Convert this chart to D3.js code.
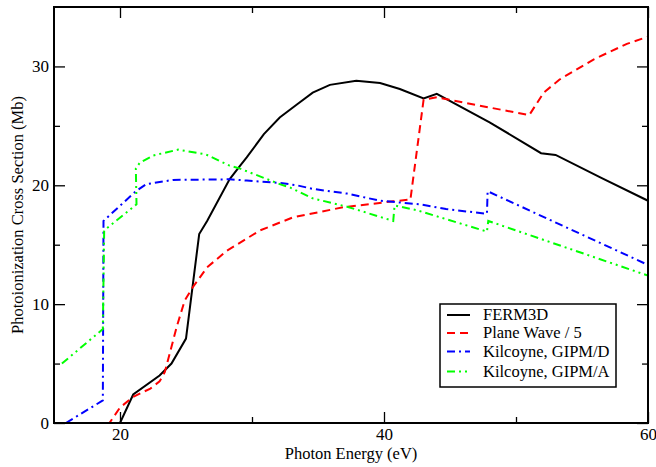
<!DOCTYPE html>
<html>
<head>
<meta charset="utf-8">
<script src="https://cdn.jsdelivr.net/npm/d3@7"></script>
<style>
    body { margin: 0; background: #fff; }
    .axis text { font-family: "Liberation Serif", "Times New Roman", serif; font-size: 17px; fill: #000; }
    .axis line { stroke: #000; stroke-width: 1.3; }
    .axis .domain { display: none; }
    .label { font-family: "Liberation Serif", "Times New Roman", serif; font-size: 16.5px; fill: #000; }
    .legend text { font-family: "Liberation Serif", "Times New Roman", serif; font-size: 16.5px; fill: #000; }
</style>
</head>
<body>
<div id="cross-section-chart"></div>
<script>

// photon energy (eV) / cross section (Mb)
var ferm3dEnergy = [20, 21, 23, 23.9, 25, 26, 26.6, 28.3, 29.0, 29.6, 30.9, 32.1, 33.4, 34.6, 35.9, 37.9, 39.7, 41.2, 43, 44, 48, 51.9, 53, 56.5, 60];
var ferm3dValue  = [0, 2.4, 4.0, 5.0, 7.1, 15.9, 17.0, 20.5, 21.5, 22.35, 24.3, 25.7, 26.8, 27.8, 28.45, 28.8, 28.6, 28.1, 27.3, 27.7, 25.3, 22.7, 22.55, 20.6, 18.7];

var planeWaveEnergy = [15, 19.2, 20, 21, 22.3, 23, 23.4, 24.3, 24.9, 25.5, 26.6, 28.1, 30.6, 33.1, 36.9, 40.7, 42.0, 43.0, 44, 51, 52.1, 53.3, 55.9, 58.4, 60];
var planeWaveValue  = [0, 0, 1.3, 2.2, 2.9, 3.5, 4.3, 8.1, 10.3, 11.4, 13.1, 14.5, 16.2, 17.3, 18.15, 18.65, 18.8, 27.2, 27.4, 25.9, 27.8, 28.9, 30.6, 31.9, 32.5];

var gipmDEnergy = [15.9, 18.7, 18.75, 21.2, 22, 24, 28.3, 29.6, 32.1, 33.4, 34.6, 37.2, 39.7, 42.7, 44.7, 47.8, 47.85, 60];
var gipmDValue  = [0, 1.9, 17.0, 19.5, 20.1, 20.45, 20.5, 20.4, 20.2, 20.0, 19.7, 19.3, 18.7, 18.4, 18.0, 17.6, 19.5, 13.3];

var gipmAEnergy = [15.6, 18.7, 18.8, 21.25, 21.2, 21.5, 22.5, 24.4, 26.5, 28.3, 29.1, 32.1, 32.9, 34.6, 37.2, 40.7, 40.8, 42.5, 47.8, 47.9, 60];
var gipmAValue  = [5.0, 7.9, 16.2, 18.4, 21.4, 21.9, 22.5, 23.0, 22.6, 21.65, 21.4, 20.1, 19.8, 18.9, 18.2, 17.0, 18.3, 17.9, 16.1, 17.0, 12.4];

var seriesNames  = ["FERM3D", "Plane Wave / 5", "Kilcoyne, GIPM/D", "Kilcoyne, GIPM/A"];
var seriesColors = ["#000000", "#ff0000", "#0000ff", "#00ff00"];
var seriesDashes = ["none", "8,5", "8,4,2,4", "8,4,2,4,2,4"];

var xMajorTicks = [20, 40, 60];
var xMinorTicks = [30, 50];
var yMajorTicks = [0, 10, 20, 30];
var yMinorTicks = [5, 15, 25];


CrossSectionChart = function(_parentElement) {
    this.parentElement = _parentElement;
    this.initVis();
};

CrossSectionChart.prototype.initVis = function() {

    var vis = this;

    vis.margin = {top: 7, right: 8, bottom: 44, left: 54};
    vis.width = 656 - vis.margin.left - vis.margin.right;
    vis.height = 467 - vis.margin.top - vis.margin.bottom;

    vis.svg = d3.select("#" + vis.parentElement).append("svg")
        .attr("width", 656)
        .attr("height", 467)
        .append("g")
        .attr("transform", "translate(" + vis.margin.left + "," + vis.margin.top + ")");

    //-----scales------
    vis.x = d3.scaleLinear()
        .domain([15, 60])
        .range([0, vis.width]);

    vis.y = d3.scaleLinear()
        .domain([0, 35])
        .range([vis.height, 0]);

    //build series from the arrays
    var energies = [ferm3dEnergy, planeWaveEnergy, gipmDEnergy, gipmAEnergy];
    var values = [ferm3dValue, planeWaveValue, gipmDValue, gipmAValue];
    vis.series = seriesNames.map(function(name, i) {
        return {
            name: name,
            color: seriesColors[i],
            dash: seriesDashes[i],
            points: energies[i].map(function(e, j) { return {x: e, y: values[i][j]}; })
        };
    });

    vis.drawAxes();
    vis.drawLines();
    vis.drawLegend();
};

CrossSectionChart.prototype.drawAxes = function() {

    var vis = this;
    var major = 11, minor = 6;

    //bottom (labels) + top, ticks pointing inward
    vis.svg.append("g").attr("class", "axis")
        .attr("transform", "translate(0," + vis.height + ")")
        .call(d3.axisBottom(vis.x).tickValues(xMajorTicks).tickSize(-major).tickPadding(5).tickFormat(d3.format("d")));
    vis.svg.append("g").attr("class", "axis")
        .attr("transform", "translate(0," + vis.height + ")")
        .call(d3.axisBottom(vis.x).tickValues(xMinorTicks).tickSize(-minor).tickFormat(""));
    vis.svg.append("g").attr("class", "axis")
        .call(d3.axisTop(vis.x).tickValues(xMajorTicks).tickSize(-major).tickFormat(""));
    vis.svg.append("g").attr("class", "axis")
        .call(d3.axisTop(vis.x).tickValues(xMinorTicks).tickSize(-minor).tickFormat(""));

    //left (labels) + right
    vis.svg.append("g").attr("class", "axis")
        .call(d3.axisLeft(vis.y).tickValues(yMajorTicks).tickSize(-major).tickPadding(5).tickFormat(d3.format("d")));
    vis.svg.append("g").attr("class", "axis")
        .call(d3.axisLeft(vis.y).tickValues(yMinorTicks).tickSize(-minor).tickFormat(""));
    vis.svg.append("g").attr("class", "axis")
        .attr("transform", "translate(" + vis.width + ",0)")
        .call(d3.axisRight(vis.y).tickValues(yMajorTicks).tickSize(-major).tickFormat(""));
    vis.svg.append("g").attr("class", "axis")
        .attr("transform", "translate(" + vis.width + ",0)")
        .call(d3.axisRight(vis.y).tickValues(yMinorTicks).tickSize(-minor).tickFormat(""));

    //axis titles
    vis.svg.append("text")
        .attr("class", "label")
        .attr("text-anchor", "middle")
        .attr("x", vis.width / 2)
        .attr("y", vis.height + 36)
        .text("Photon Energy (eV)");

    vis.svg.append("text")
        .attr("class", "label")
        .attr("text-anchor", "middle")
        .attr("transform", "translate(-31," + (vis.height / 2) + ") rotate(-90)")
        .text("Photoionization Cross Section (Mb)");
};

CrossSectionChart.prototype.drawLines = function() {

    var vis = this;

    vis.svg.append("clipPath").attr("id", "plot-clip")
        .append("rect").attr("width", vis.width).attr("height", vis.height);

    var line = d3.line()
        .x(function(d) { return vis.x(d.x); })
        .y(function(d) { return vis.y(d.y); });

    vis.svg.append("g")
        .attr("clip-path", "url(#plot-clip)")
        .selectAll("path")
        .data(vis.series)
        .enter()
        .append("path")
        .attr("d", function(d) { return line(d.points); })
        .style("fill", "none")
        .style("stroke", function(d) { return d.color; })
        .style("stroke-width", 2)
        .style("stroke-dasharray", function(d) { return d.dash; });

    //plot frame drawn on top
    vis.svg.append("rect")
        .attr("width", vis.width)
        .attr("height", vis.height)
        .style("fill", "none")
        .style("stroke", "#000")
        .style("stroke-width", 2);
};

CrossSectionChart.prototype.drawLegend = function() {

    var vis = this;

    var legend = vis.svg.append("g")
        .attr("class", "legend")
        .attr("transform", "translate(" + (440 - vis.margin.left) + "," + (304 - vis.margin.top) + ")");

    legend.append("rect")
        .attr("width", 176)
        .attr("height", 83)
        .style("fill", "#fff")
        .style("stroke", "#000")
        .style("stroke-width", 1.5);

    var rowY = [11, 29, 47.5, 67.5];

    var rows = legend.selectAll(".row")
        .data(vis.series)
        .enter()
        .append("g")
        .attr("class", "row")
        .attr("transform", function(d, i) { return "translate(0," + rowY[i] + ")"; });

    rows.append("line")
        .attr("x1", 7)
        .attr("x2", 30)
        .style("stroke", function(d) { return d.color; })
        .style("stroke-width", 2)
        .style("stroke-dasharray", function(d) { return d.dash; });

    rows.append("text")
        .attr("x", 43)
        .attr("dy", "0.33em")
        .text(function(d) { return d.name; });
};

new CrossSectionChart("cross-section-chart");

</script>
</body>
</html>
